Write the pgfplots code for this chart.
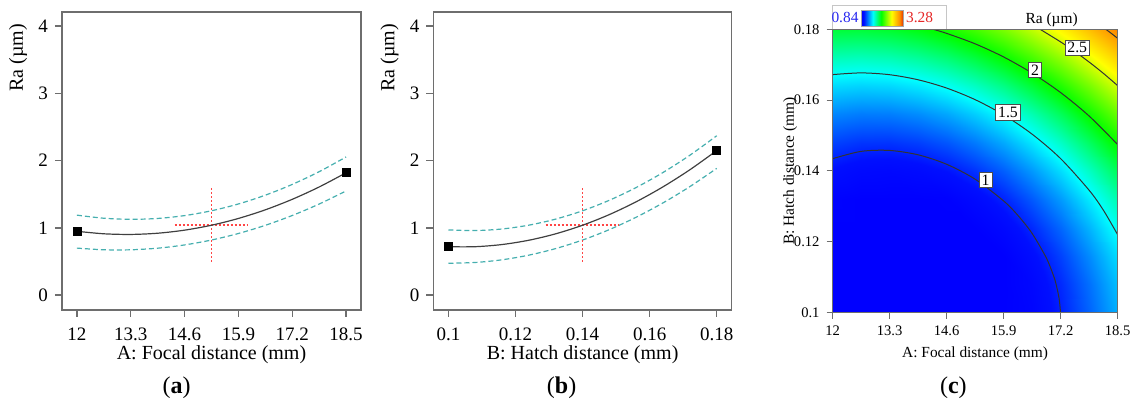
\documentclass[border=0pt]{standalone}
\usepackage{fontspec}
\setmainfont{Liberation Serif}
\usepackage{pgfplots}
\pgfplotsset{compat=1.18}

\definecolor{frameGray}{RGB}{110,110,110}
\definecolor{ciTeal}{RGB}{70,175,175}
\definecolor{xhRed}{RGB}{255,70,70}
\definecolor{lowBlue}{RGB}{40,40,240}
\definecolor{highRed}{RGB}{230,40,40}

\tikzset{clab/.style={draw=black!70, fill=white, inner sep=1.2pt, font=\fontsize{7.9}{9}\selectfont}}
\pgfplotsset{
  colormap={ra}{rgb255(0cm)=(0,0,255); rgb255(5cm)=(0,15,255); rgb255(27cm)=(0,255,255);
    rgb255(47cm)=(0,255,0); rgb255(72cm)=(255,255,0); rgb255(92cm)=(255,135,0); rgb255(100cm)=(225,40,0)},
  effect/.style={
    scale only axis, width=149.5pt, height=149pt, anchor=south west,
    ymin=-0.22, ymax=4.21, ytick={0,1,2,3,4}, yticklabels={0,1,2,3,4},
    axis line style={frameGray, line width=0.7pt},
    tick style={frameGray, line width=0.7pt},
    major tick length=3.5pt, tick align=outside, tick pos=left,
    ticklabel style={font=\fontsize{9.5}{11}\selectfont},
    xticklabel style={yshift=-2pt},
    label style={font=\fontsize{10}{12}\selectfont},
    xlabel style={yshift=4.5pt},
    ylabel={Ra (µm)},
    ylabel style={at={(axis description cs:-0.147,0.846)}, anchor=center},
    clip=false,
  },
  fitline/.style={black!75, line width=0.6pt, smooth},
  ciline/.style={ciTeal, line width=0.6pt, dash pattern=on 2.5pt off 1.5pt, smooth},
  crossh/.style={draw=xhRed, line width=0.75pt, dash pattern=on 1pt off 1pt},
  cline/.style={black!80, line width=0.5pt, smooth},
}

\pgfplotstableread[row sep=\\]{
A B z\\
12 0.1 0.805\\ 12.65 0.1 0.7328\\ 13.3 0.1 0.6882\\ 13.95 0.1 0.6712\\ 14.6 0.1 0.6818\\ 15.25 0.1 0.72\\ 15.9 0.1 0.7858\\ 16.55 0.1 0.8792\\ 17.2 0.1 1.0002\\ 17.85 0.1 1.1488\\ 18.5 0.1 1.325\\
12 0.108 0.7708\\ 12.65 0.108 0.7056\\ 13.3 0.108 0.668\\ 13.95 0.108 0.658\\ 14.6 0.108 0.6756\\ 15.25 0.108 0.7208\\ 15.9 0.108 0.7936\\ 16.55 0.108 0.894\\ 17.2 0.108 1.022\\ 17.85 0.108 1.1776\\ 18.5 0.108 1.3608\\
12 0.116 0.7682\\ 12.65 0.116 0.71\\ 13.3 0.116 0.6794\\ 13.95 0.116 0.6764\\ 14.6 0.116 0.701\\ 15.25 0.116 0.7532\\ 15.9 0.116 0.833\\ 16.55 0.116 0.9404\\ 17.2 0.116 1.0754\\ 17.85 0.116 1.238\\ 18.5 0.116 1.4282\\
12 0.124 0.7972\\ 12.65 0.124 0.746\\ 13.3 0.124 0.7224\\ 13.95 0.124 0.7264\\ 14.6 0.124 0.758\\ 15.25 0.124 0.8172\\ 15.9 0.124 0.904\\ 16.55 0.124 1.0184\\ 17.2 0.124 1.1604\\ 17.85 0.124 1.33\\ 18.5 0.124 1.5272\\
12 0.132 0.8578\\ 12.65 0.132 0.8136\\ 13.3 0.132 0.797\\ 13.95 0.132 0.808\\ 14.6 0.132 0.8466\\ 15.25 0.132 0.9128\\ 15.9 0.132 1.0066\\ 16.55 0.132 1.128\\ 17.2 0.132 1.277\\ 17.85 0.132 1.4536\\ 18.5 0.132 1.6578\\
12 0.14 0.95\\ 12.65 0.14 0.9128\\ 13.3 0.14 0.9032\\ 13.95 0.14 0.9212\\ 14.6 0.14 0.9668\\ 15.25 0.14 1.04\\ 15.9 0.14 1.1408\\ 16.55 0.14 1.2692\\ 17.2 0.14 1.4252\\ 17.85 0.14 1.6088\\ 18.5 0.14 1.82\\
12 0.148 1.0738\\ 12.65 0.148 1.0436\\ 13.3 0.148 1.041\\ 13.95 0.148 1.066\\ 14.6 0.148 1.1186\\ 15.25 0.148 1.1988\\ 15.9 0.148 1.3066\\ 16.55 0.148 1.442\\ 17.2 0.148 1.605\\ 17.85 0.148 1.7956\\ 18.5 0.148 2.0138\\
12 0.156 1.2292\\ 12.65 0.156 1.206\\ 13.3 0.156 1.2104\\ 13.95 0.156 1.2424\\ 14.6 0.156 1.302\\ 15.25 0.156 1.3892\\ 15.9 0.156 1.504\\ 16.55 0.156 1.6464\\ 17.2 0.156 1.8164\\ 17.85 0.156 2.014\\ 18.5 0.156 2.2392\\
12 0.164 1.4162\\ 12.65 0.164 1.4\\ 13.3 0.164 1.4114\\ 13.95 0.164 1.4504\\ 14.6 0.164 1.517\\ 15.25 0.164 1.6112\\ 15.9 0.164 1.733\\ 16.55 0.164 1.8824\\ 17.2 0.164 2.0594\\ 17.85 0.164 2.264\\ 18.5 0.164 2.4962\\
12 0.172 1.6348\\ 12.65 0.172 1.6256\\ 13.3 0.172 1.644\\ 13.95 0.172 1.69\\ 14.6 0.172 1.7636\\ 15.25 0.172 1.8648\\ 15.9 0.172 1.9936\\ 16.55 0.172 2.15\\ 17.2 0.172 2.334\\ 17.85 0.172 2.5456\\ 18.5 0.172 2.7848\\
12 0.18 1.885\\ 12.65 0.18 1.8828\\ 13.3 0.18 1.9082\\ 13.95 0.18 1.9612\\ 14.6 0.18 2.0418\\ 15.25 0.18 2.15\\ 15.9 0.18 2.2858\\ 16.55 0.18 2.4492\\ 17.2 0.18 2.6402\\ 17.85 0.18 2.8588\\ 18.5 0.18 3.105\\
}\rasurf

\begin{document}
\begin{tikzpicture}
\path[use as bounding box] (0,0) rectangle (567.5pt,202.5pt);

% (a) one-factor effect of focal distance
\begin{axis}[effect, at={(31pt,47.5pt)},
  xmin=11.64, xmax=18.86,
  xtick={12,13.3,14.6,15.9,17.2,18.5}, xticklabels={12,13.3,14.6,15.9,17.2,18.5},
  xlabel={A: Focal distance (mm)}]
  \addplot[ciline] coordinates {(12,1.19) (12.65,1.1442) (13.3,1.1278) (13.95,1.1408) (14.6,1.1832) (15.25,1.255) (15.9,1.3562) (16.55,1.4868) (17.2,1.6468) (17.85,1.8362) (18.5,2.055)};
  \addplot[ciline] coordinates {(12,0.70) (12.65,0.6752) (13.3,0.6748) (13.95,0.6988) (14.6,0.7472) (15.25,0.82) (15.9,0.9172) (16.55,1.0388) (17.2,1.1848) (17.85,1.3552) (18.5,1.55)};
  \addplot[crossh] coordinates {(15.25,0.5) (15.25,1.6)};
  \addplot[crossh] coordinates {(14.36,1.04) (16.14,1.04)};
  \addplot[fitline] coordinates {(12,0.95) (12.65,0.9128) (13.3,0.9032) (13.95,0.9212) (14.6,0.9668) (15.25,1.04) (15.9,1.1408) (16.55,1.2692) (17.2,1.4252) (17.85,1.6088) (18.5,1.82)};
  \addplot[only marks, mark=square*, mark size=2pt, black] coordinates {(12,0.95) (18.5,1.82)};
\end{axis}

% (b) one-factor effect of hatch distance
\begin{axis}[effect, at={(216.7pt,47.5pt)}, width=149.2pt,
  xmin=0.0955, xmax=0.1845,
  xtick={0.1,0.12,0.14,0.16,0.18}, xticklabels={0.1,0.12,0.14,0.16,0.18},
  xlabel={B: Hatch distance (mm)}]
  \addplot[ciline] coordinates {(0.1,0.97) (0.108,0.9606) (0.116,0.9844) (0.124,1.0414) (0.132,1.1316) (0.14,1.255) (0.148,1.4116) (0.156,1.6014) (0.164,1.8244) (0.172,2.0806) (0.18,2.37)};
  \addplot[ciline] coordinates {(0.1,0.475) (0.108,0.4864) (0.116,0.5266) (0.124,0.5956) (0.132,0.6934) (0.14,0.82) (0.148,0.9754) (0.156,1.1596) (0.164,1.3726) (0.172,1.6144) (0.18,1.885)};
  \addplot[crossh] coordinates {(0.14,0.5) (0.14,1.6)};
  \addplot[crossh] coordinates {(0.129,1.04) (0.151,1.04)};
  \addplot[fitline] coordinates {(0.1,0.72) (0.108,0.7208) (0.116,0.7532) (0.124,0.8172) (0.132,0.9128) (0.14,1.04) (0.148,1.1988) (0.156,1.3892) (0.164,1.6112) (0.172,1.8648) (0.18,2.15)};
  \addplot[only marks, mark=square*, mark size=2pt, black] coordinates {(0.1,0.72) (0.18,2.15)};
\end{axis}

% (c) contour map, legend strip first
\draw[gray!45, fill=white, line width=0.4pt] (416.3pt,187.85pt) rectangle (473pt,200pt);
\begin{axis}[at={(416.3pt,46.15pt)}, anchor=south west, scale only axis,
  width=142.5pt, height=141.7pt,
  xmin=12, xmax=18.5, ymin=0.1, ymax=0.18,
  xtick={12,13.3,14.6,15.9,17.2,18.5}, xticklabels={12,13.3,14.6,15.9,17.2,18.5},
  ytick={0.1,0.12,0.14,0.16,0.18}, yticklabels={0.1,0.12,0.14,0.16,0.18},
  axis on top, tick align=outside, tick pos=left, major tick length=3pt,
  axis line style={frameGray, line width=0.5pt}, tick style={frameGray, line width=0.5pt},
  ticklabel style={font=\fontsize{7.3}{9}\selectfont},
  label style={font=\fontsize{7.7}{9}\selectfont},
  xlabel style={yshift=1.5pt},
  xlabel={A: Focal distance (mm)}, ylabel={B: Hatch distance (mm)},
  ylabel style={at={(axis description cs:-0.149,0.5)}, anchor=center},
  colormap name=ra, point meta min=0.84, point meta max=3.28,
  colorbar horizontal,
  colorbar style={at={(parent axis.north west)}, anchor=south west,
    xshift=14.5pt, yshift=9.95pt, scale only axis, width=20.9pt, height=8pt,
    xtick=\empty, ytick=\empty, axis line style={gray!70, line width=0.4pt}},
  ]
  \addplot[surf, shader=interp, mesh/cols=11, mesh/rows=11, point meta=explicit]
    table[x=A, y=B, meta=z] {\rasurf};
  \addplot[cline] coordinates {(12,0.14348) (12.65,0.14554) (13.3,0.1458) (13.95,0.14457) (14.6,0.1419) (15.25,0.13769) (15.9,0.13155) (16.225,0.12748) (16.55,0.12238) (16.875,0.11545) (17.0375,0.11047) (17.098,0.108) (17.166,0.104) (17.199,0.1)};
  \addplot[cline] coordinates {(12,0.16721) (12.65,0.16769) (13.3,0.16718) (13.95,0.16575) (14.6,0.16341) (15.25,0.16014) (15.9,0.15585) (16.55,0.1504) (17.2,0.1435) (17.85,0.13457) (18.175,0.12895) (18.5,0.12204)};
  \addplot[cline] coordinates {(14.291,0.18) (14.6,0.17885) (15.25,0.1759) (15.9,0.17219) (16.55,0.16763) (17.2,0.16214) (17.85,0.15552) (18.5,0.14747)};
  \addplot[cline] coordinates {(16.732,0.18) (17.2,0.17644) (17.525,0.17371) (17.85,0.17076) (18.175,0.16757) (18.5,0.16411)};
  \addplot[cline] coordinates {(18.232,0.18) (18.3375,0.17902) (18.5,0.17746)};
  \node[clab] at (axis cs:15.49,0.1375) {1};
  \node[clab] at (axis cs:16.0,0.1565) {1.5};
  \node[clab] at (axis cs:16.62,0.1685) {2};
  \node[clab] at (axis cs:17.58,0.1748) {2.5};
\end{axis}
\node[text=lowBlue, font=\fontsize{7.7}{9}\selectfont] at (422.5pt,193.8pt) {0.84};
\node[text=highRed, font=\fontsize{7.7}{9}\selectfont] at (459.8pt,193.8pt) {3.28};
\node[font=\fontsize{7.7}{9}\selectfont] at (525.8pt,192.8pt) {Ra (µm)};

% panel letters
\node[font=\fontsize{12}{14}\selectfont] at (88.3pt,8.5pt) {(\textbf{a})};
\node[font=\fontsize{12}{14}\selectfont] at (280.8pt,8.5pt) {(\textbf{b})};
\node[font=\fontsize{12}{14}\selectfont] at (476.7pt,8.5pt) {(\textbf{c})};
\end{tikzpicture}
\end{document}
